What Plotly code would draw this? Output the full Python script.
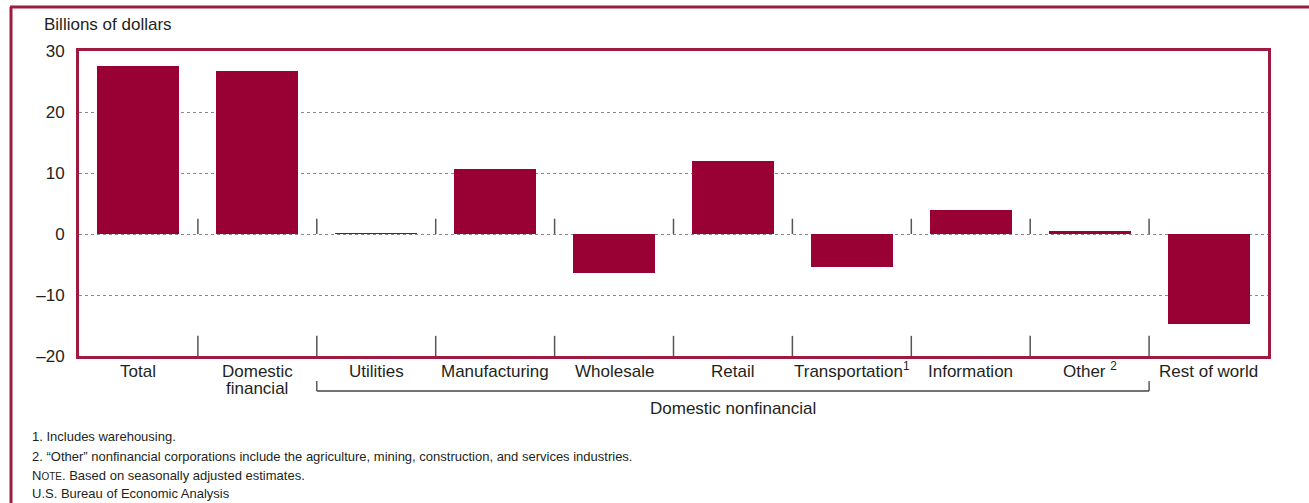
import plotly.graph_objects as go

categories = ["Total", "Domestic<br>financial", "Utilities", "Manufacturing", "Wholesale",
              "Retail", "Transportation<sup>1</sup>", "Information", "Other <sup>2</sup>", "Rest of world"]
values = [27.6, 26.8, 0.15, 10.7, -6.4, 12.0, -5.4, 3.95, 0.5, -14.7]
ytick_vals = [-20, -10, 0, 10, 20, 30]
ytick_text = ["\u201320", "\u201310", "0", "10", "20", "30"]
footnotes = [
    "1. Includes warehousing.",
    "2. \u201cOther\u201d nonfinancial corporations include the agriculture, mining, construction, and services industries.",
    "N<span style='font-size:10px'>OTE</span>. Based on seasonally adjusted estimates.",
    "U.S. Bureau of Economic Analysis",
]
group_label = "Domestic nonfinancial"

RED = "#990033"
FRAME = "#9e1a40"
TXT = "#231f20"
FONT = "Liberation Sans, Arial, sans-serif"

W, H = 1309, 503
L, R, T, B = 79, 1268, 51, 356
pw, ph = R - L, B - T

def px(x):
    return (x - L) / pw

def py(y):
    return (B - y) / ph

xs = list(range(len(categories)))

fig = go.Figure()
fig.add_trace(go.Bar(x=xs, y=values, width=0.69, marker=dict(color=RED, line=dict(width=0)),
                     hoverinfo="skip"))

shapes = []
for i in range(len(categories) - 1):
    b = i + 0.5
    shapes.append(dict(type="line", xref="x", yref="y", x0=b, x1=b, y0=0, y1=2.5,
                       line=dict(color="#555", width=1.5), layer="above"))
    shapes.append(dict(type="line", xref="x", yref="y", x0=b, x1=b, y0=-20, y1=-16.7,
                       line=dict(color="#555", width=1.5), layer="above"))

yb = py(391)
yt = py(381)
for x0, x1, y0, y1 in [(1.5, 8.5, yb, yb), (1.5, 1.5, yb, yt), (8.5, 8.5, yb, yt)]:
    shapes.append(dict(type="line", xref="x", yref="paper", x0=x0, x1=x1, y0=y0, y1=y1,
                       line=dict(color="#444", width=1.3)))

shapes.append(dict(type="line", xref="paper", yref="paper", x0=px(11), x1=px(11), y0=py(7), y1=py(510),
                   line=dict(color=FRAME, width=3)))
shapes.append(dict(type="line", xref="paper", yref="paper", x0=px(10), x1=px(1320), y0=py(7), y1=py(7),
                   line=dict(color=FRAME, width=3)))

annotations = []
for i, c in enumerate(categories):
    for j, ln in enumerate(c.split("<br>")):
        if "<sup>" in ln:
            yy, anchor = py(383), "bottom"
        else:
            yy, anchor = py(371 + 17 * j), "middle"
        annotations.append(dict(x=i, y=yy, xref="x", yref="paper", text=ln,
                                showarrow=False, xanchor="center", yanchor=anchor,
                                font=dict(size=17, color=TXT, family=FONT)))
annotations.append(dict(x=5, y=py(408), xref="x", yref="paper", text=group_label, showarrow=False,
                        xanchor="center", yanchor="middle", font=dict(size=17, color=TXT, family=FONT)))
annotations.append(dict(x=px(42), y=py(25), xref="paper", yref="paper", text="Billions of dollars",
                        showarrow=False, xanchor="left", yanchor="middle",
                        font=dict(size=17, color=TXT, family=FONT)))
for txt, yy in zip(footnotes, [436, 456, 475, 493]):
    annotations.append(dict(x=px(30), y=py(yy), xref="paper", yref="paper", text=txt,
                            showarrow=False, xanchor="left", yanchor="middle",
                            font=dict(size=13, color=TXT, family=FONT)))

fig.update_layout(
    width=W, height=H,
    margin=dict(l=L, r=W - R, t=T, b=H - B, pad=0),
    paper_bgcolor="white", plot_bgcolor="white",
    showlegend=False,
    bargap=0,
    shapes=shapes,
    annotations=annotations,
    xaxis=dict(range=[-0.5, len(categories) - 0.5], showticklabels=False, ticks="",
               showgrid=False, zeroline=False, showline=True, mirror=True,
               linecolor=FRAME, linewidth=3, fixedrange=True),
    yaxis=dict(range=[-20, 30], tickvals=ytick_vals, ticktext=ytick_text, ticks="",
               showgrid=True, gridcolor="#8a8a8a", griddash="dot", gridwidth=1,
               zeroline=False, showline=True, mirror=True, linecolor=FRAME, linewidth=3,
               tickfont=dict(size=17, color=TXT, family=FONT), ticklabelstandoff=8,
               fixedrange=True),
)

fig.write_html("out.html")
